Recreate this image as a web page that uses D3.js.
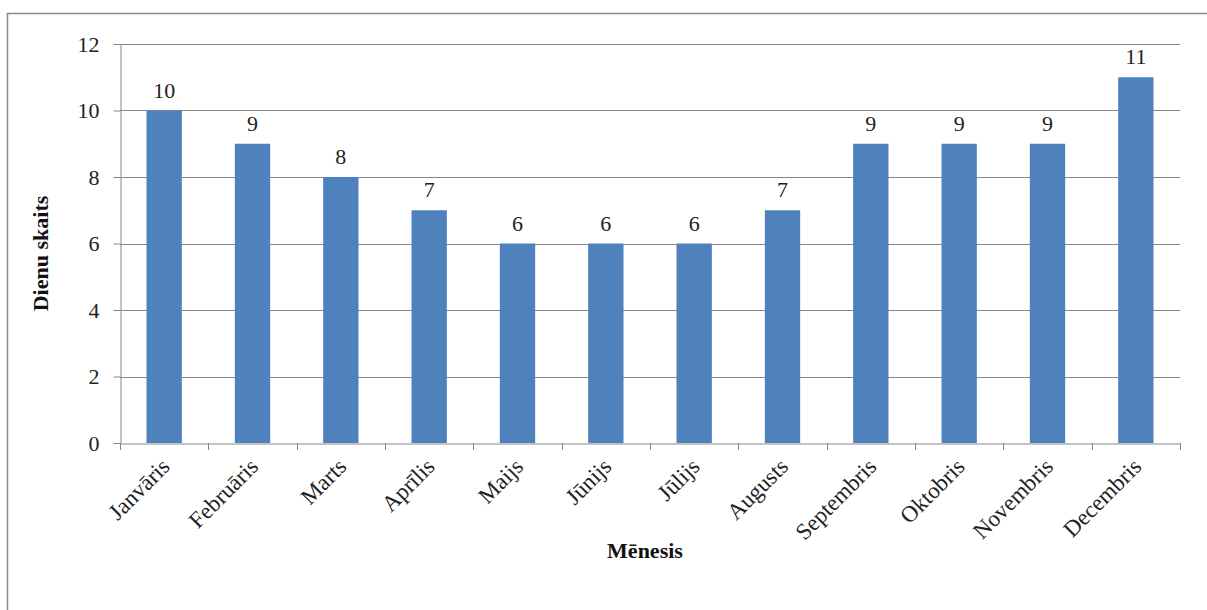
<!DOCTYPE html>
<html><head><meta charset="utf-8">
<script src="https://cdn.jsdelivr.net/npm/d3@7"></script>
<style>body{margin:0;background:#fff;} svg{display:block;}</style>
</head><body>
<svg id="c" width="1207" height="610"></svg>
<script>
const months = ["Janvāris","Februāris","Marts","Aprīlis","Maijs","Jūnijs","Jūlijs","Augusts","Septembris","Oktobris","Novembris","Decembris"];
const days = [10,9,8,7,6,6,6,7,9,9,9,11];
const yTicks = [0,2,4,6,8,10,12];
const xTitle = "Mēnesis";
const yTitle = "Dienu skaits";

const svg = d3.select("#c");
const font = "'Liberation Serif','Times New Roman',serif";
const grid = "#878787";

svg.append("rect").attr("x",7.5).attr("y",13.5).attr("width",1220).attr("height",620)
  .attr("fill","#fff").attr("stroke","#8a8a8a").attr("stroke-width",1.5);

const L=120, R=1180, T=44, B=443;
const x = d3.scaleBand().domain(months).range([L,R]).paddingInner(0).paddingOuter(0);
const y = d3.scaleLinear().domain([0,12]).range([B,T]);

// grid lines
svg.append("g").selectAll("line").data(yTicks.filter(d=>d>0)).join("line")
  .attr("x1",L).attr("x2",R).attr("y1",d=>Math.round(y(d))+0.5).attr("y2",d=>Math.round(y(d))+0.5)
  .attr("stroke",grid).attr("stroke-width",1);

// y axis
const yAxis = svg.append("g").attr("transform",`translate(${L+0.5},0)`)
  .call(d3.axisLeft(y).tickValues(yTicks).tickSize(7).tickPadding(14).tickSizeOuter(0));
yAxis.select(".domain").attr("stroke",grid);
yAxis.selectAll(".tick line").attr("stroke",grid);
yAxis.selectAll(".tick text").attr("font-family",font).attr("font-size",22).attr("fill","#222");

// bars
const bw = x.bandwidth()*0.4;
svg.append("g").selectAll("rect").data(months).join("rect")
  .attr("x",(d)=>x(d)+(x.bandwidth()-bw)/2)
  .attr("y",(d,i)=>y(days[i]))
  .attr("width",bw)
  .attr("height",(d,i)=>B-y(days[i]))
  .attr("fill","#4F81BD");

// x axis
const xAxis = svg.append("g").attr("transform",`translate(0,${B+0.5})`)
  .call(d3.axisBottom(x).tickSize(0).tickSizeOuter(0).tickFormat(""));
xAxis.select(".domain").attr("stroke",grid);
svg.append("g").selectAll("line").data(d3.range(months.length+1)).join("line")
  .attr("x1",i=>Math.round(L+i*x.step())+0.5).attr("x2",i=>Math.round(L+i*x.step())+0.5)
  .attr("y1",B).attr("y2",B+7).attr("stroke",grid);

// x labels
svg.append("g").selectAll("text").data(months).join("text")
  .attr("transform",d=>`translate(${x(d)+x.bandwidth()/2+7},${B+25}) rotate(-45)`)
  .attr("text-anchor","end")
  .attr("font-family",font).attr("font-size",23).attr("fill","#222")
  .text(d=>d);

// data labels
svg.append("g").selectAll("text").data(months).join("text")
  .attr("x",d=>x(d)+x.bandwidth()/2)
  .attr("y",(d,i)=>y(days[i])-13)
  .attr("text-anchor","middle")
  .attr("font-family",font).attr("font-size",22).attr("fill","#222")
  .text((d,i)=>days[i]);

// titles
svg.append("text").attr("x",(L+R)/2-5).attr("y",558)
  .attr("text-anchor","middle").attr("font-family",font).attr("font-weight","bold")
  .attr("font-size",22).attr("fill","#111").text(xTitle);
svg.append("text").attr("transform",`translate(48,${(T+B)/2+10}) rotate(-90)`)
  .attr("text-anchor","middle").attr("font-family",font).attr("font-weight","bold")
  .attr("font-size",22).attr("fill","#111").text(yTitle);
</script>
</body></html>
